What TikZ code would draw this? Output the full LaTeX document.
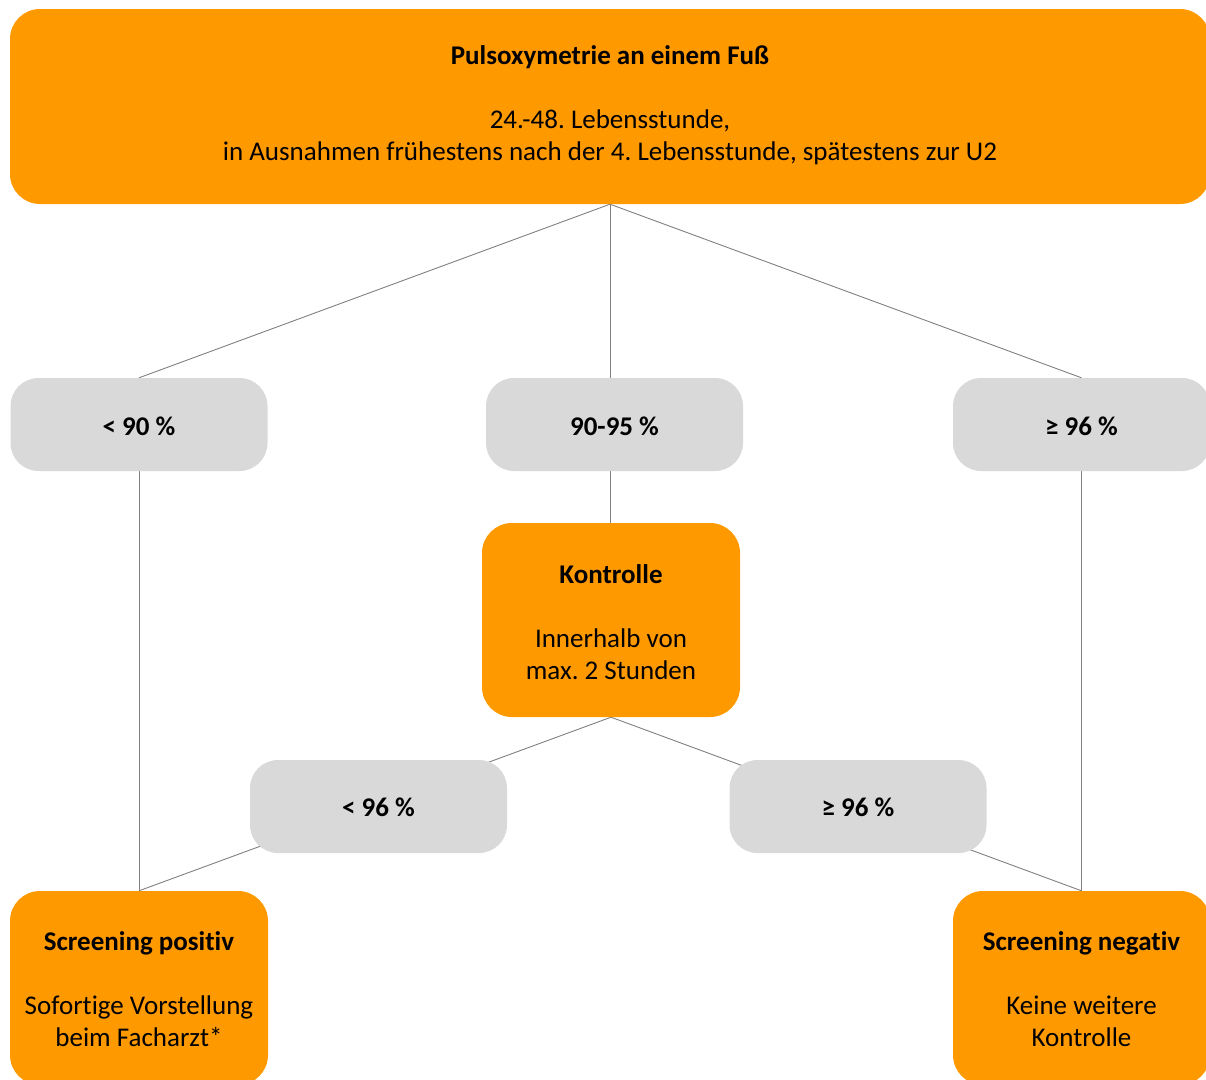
\documentclass[tikz,border=0pt]{standalone}
\usepackage{fontspec}
\setmainfont[Ligatures=NoCommon]{Carlito}
\frenchspacing
\usetikzlibrary{backgrounds}
\definecolor{boxorange}{RGB}{255,153,0}
\definecolor{boxgrey}{RGB}{217,217,217}
\definecolor{linegrey}{RGB}{128,128,128}
% shift the text block vertically while keeping its reported size
\newsavebox{\shiftbox}
\newcommand{\shiftedtext}[2]{\sbox{\shiftbox}{\begin{tabular}{@{}c@{}}#2\end{tabular}}\raisebox{#1}[\ht\shiftbox][\dp\shiftbox]{\usebox{\shiftbox}}}
\tikzset{
  orangebox/.style={draw=none, fill=boxorange, rounded corners=30pt,
    inner sep=0pt, font=\fontsize{27}{32}\selectfont},
  greybox/.style={draw=none, fill=boxgrey, rounded corners=28pt,
    inner sep=0pt, minimum width=257pt, minimum height=93pt,
    font=\fontsize{27}{32}\selectfont\bfseries},
  conn/.style={draw=linegrey, line width=0.9pt},
}
\begin{document}
\begin{tikzpicture}[x=1pt, y=-1pt]
\useasboundingbox (0,0) rectangle (1206,1079);
% top box
\node[orangebox, minimum width=1200pt, minimum height=195pt] (top) at (610,106.5)
  {\shiftedtext{0.5pt}{\textbf{Pulsoxymetrie an einem Fuß}\\[32pt]24.-48. Lebensstunde,\\in Ausnahmen frühestens nach der 4. Lebensstunde, spätestens zur U2}};
% first level
\node[greybox] (lt90) at (139,424.5) {\shiftedtext{-5pt}{< 90 \%}};
\node[greybox] (mid) at (614.5,424.5) {\shiftedtext{-5pt}{90-95 \%}};
\node[greybox] (ge96) at (1081.5,424.5) {\shiftedtext{-5pt}{≥ 96 \%}};
% control
\node[orangebox, minimum width=258pt, minimum height=194pt] (kon) at (611,620)
  {\shiftedtext{-5pt}{\textbf{Kontrolle}\\[32pt]Innerhalb von\\max. 2 Stunden}};
% second level
\node[greybox] (lt96) at (378.5,806.5) {\shiftedtext{-4pt}{< 96 \%}};
\node[greybox] (ge96b) at (858,806.5) {\shiftedtext{-4pt}{≥ 96 \%}};
% results
\node[orangebox, minimum width=258pt, minimum height=194pt] (pos) at (139,988)
  {\shiftedtext{-4pt}{\textbf{Screening positiv}\\[32pt]Sofortige Vorstellung\\beim Facharzt*}};
\node[orangebox, minimum width=257pt, minimum height=194pt] (neg) at (1081.5,988)
  {\shiftedtext{-4pt}{\textbf{Screening negativ}\\[32pt]Keine weitere\\Kontrolle}};
\begin{pgfonlayer}{background}
  \coordinate (topout) at (top.south);
  \coordinate (konout) at (kon.south);
  \draw[conn] (topout) -- (lt90.north);
  \draw[conn] (lt90.south) -- (pos.north);
  \draw[conn] (topout) -- (topout |- kon.north);
  \draw[conn] (topout) -- (ge96.north);
  \draw[conn] (ge96.south) -- (neg.north);
  \draw[conn] (konout) -- (pos.north);
  \draw[conn] (konout) -- (neg.north);
\end{pgfonlayer}
\end{tikzpicture}
\end{document}
